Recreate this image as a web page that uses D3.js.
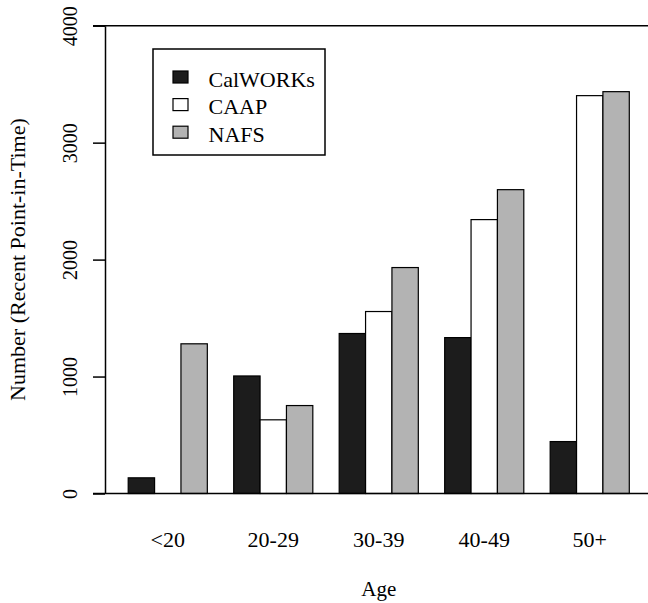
<!DOCTYPE html>
<html>
<head>
<meta charset="utf-8">
<script src="https://cdn.jsdelivr.net/npm/d3@7"></script>
<style>
  body { margin: 0; background: #fff; }
  svg text { font-family: "Liberation Serif", "DejaVu Serif", serif; fill: #000; }
</style>
</head>
<body>
<script>
// age groups and series
const ages = ["<20", "20-29", "30-39", "40-49", "50+"];
const series = ["CalWORKs", "CAAP", "NAFS"];
const calworks = [134, 1005, 1368, 1333, 444];
const caap = [0, 630, 1556, 2342, 3402];
const nafs = [1280, 752, 1932, 2598, 3436];
const yTicks = [0, 1000, 2000, 3000, 4000];
const fills = ["#1c1c1c", "#ffffff", "#b3b3b3"];

const w = 648, h = 603;
const serif = "Liberation Serif";

const rows = ages.map(function (a, i) {
  return { age: a, values: [calworks[i], caap[i], nafs[i]] };
});

const svg = d3.select("body").append("svg")
  .attr("width", w)
  .attr("height", h);

// scales
const x = d3.scaleBand()
  .domain(ages)
  .range([105, 652.5])
  .paddingInner(0.25)
  .paddingOuter(0.22);

const xInner = d3.scaleBand()
  .domain(series)
  .range([0, x.bandwidth()]);

const y = d3.scaleLinear()
  .domain([0, 4000])
  .range([493.5, 25.7]);

const color = d3.scaleOrdinal().domain(series).range(fills);

// bars
const groups = svg.selectAll("g.grp")
  .data(rows)
  .enter().append("g")
  .attr("class", "grp")
  .attr("transform", function (d) { return `translate(${x(d.age)},0)`; });

groups.selectAll("rect")
  .data(function (d) { return d.values.map(function (v, j) { return { key: series[j], v: v }; }); })
  .enter().append("rect")
  .attr("x", function (d) { return xInner(d.key); })
  .attr("y", function (d) { return y(d.v); })
  .attr("width", xInner.bandwidth())
  .attr("height", function (d) { return y(0) - y(d.v); })
  .attr("fill", function (d) { return color(d.key); })
  .attr("stroke", "#000")
  .attr("stroke-width", 1.2);

// horizontal lines at 0 and 4000 across the plot
svg.selectAll("line.hl")
  .data([0, 4000])
  .enter().append("line")
  .attr("class", "hl")
  .attr("x1", 93).attr("x2", w)
  .attr("y1", function (d) { return y(d); })
  .attr("y2", function (d) { return y(d); })
  .attr("stroke", "#000")
  .attr("stroke-width", 1.5);

// y axis
const yAxis = d3.axisLeft(y)
  .tickValues(yTicks)
  .tickSize(12)
  .tickSizeOuter(0)
  .tickFormat(d3.format("d"));

const gy = svg.append("g")
  .attr("transform", "translate(105,0)")
  .call(yAxis);

gy.attr("font-family", serif).attr("font-size", 20);
gy.select(".domain").attr("stroke-width", 1.5);
gy.selectAll(".tick line").attr("stroke-width", 1.5);
gy.selectAll(".tick text")
  .attr("font-family", serif)
  .attr("font-size", 20)
  .attr("text-anchor", "middle")
  .attr("x", 0).attr("y", 0).attr("dy", 0)
  .attr("transform", "translate(-28,0) rotate(-90)");

// x labels
svg.selectAll("text.xl")
  .data(ages)
  .enter().append("text")
  .attr("class", "xl")
  .attr("x", function (d) { return x(d) + x.bandwidth() / 2; })
  .attr("y", 547)
  .attr("text-anchor", "middle")
  .attr("font-family", serif)
  .attr("font-size", 22)
  .text(function (d) { return d; });

// axis titles, centred on the plot region
const [px0, px1] = x.range();
svg.append("text")
  .attr("x", (px0 + px1) / 2).attr("y", 596)
  .attr("text-anchor", "middle")
  .attr("font-family", serif)
  .attr("font-size", 21)
  .text("Age");

svg.append("text")
  .attr("transform", `translate(25,${(y(0) + y(4000)) / 2}) rotate(-90)`)
  .attr("text-anchor", "middle")
  .attr("font-family", serif)
  .attr("font-size", 22)
  .text("Number (Recent Point-in-Time)");

// legend
const lg = svg.append("g").attr("transform", "translate(153,49)");
lg.append("rect")
  .attr("width", 172).attr("height", 106)
  .attr("fill", "#fff")
  .attr("stroke", "#000")
  .attr("stroke-width", 1.5);

const items = lg.selectAll("g.it")
  .data(series)
  .enter().append("g")
  .attr("class", "it")
  .attr("transform", function (d, i) { return `translate(20,${22 + i * 27.6})`; });

items.append("rect")
  .attr("width", 15).attr("height", 12)
  .attr("fill", function (d) { return color(d); })
  .attr("stroke", "#000")
  .attr("stroke-width", 1.2);

items.append("text")
  .attr("x", 35.5).attr("y", 15.8)
  .attr("font-family", serif)
  .attr("font-size", 22)
  .text(function (d) { return d; });
</script>
</body>
</html>
